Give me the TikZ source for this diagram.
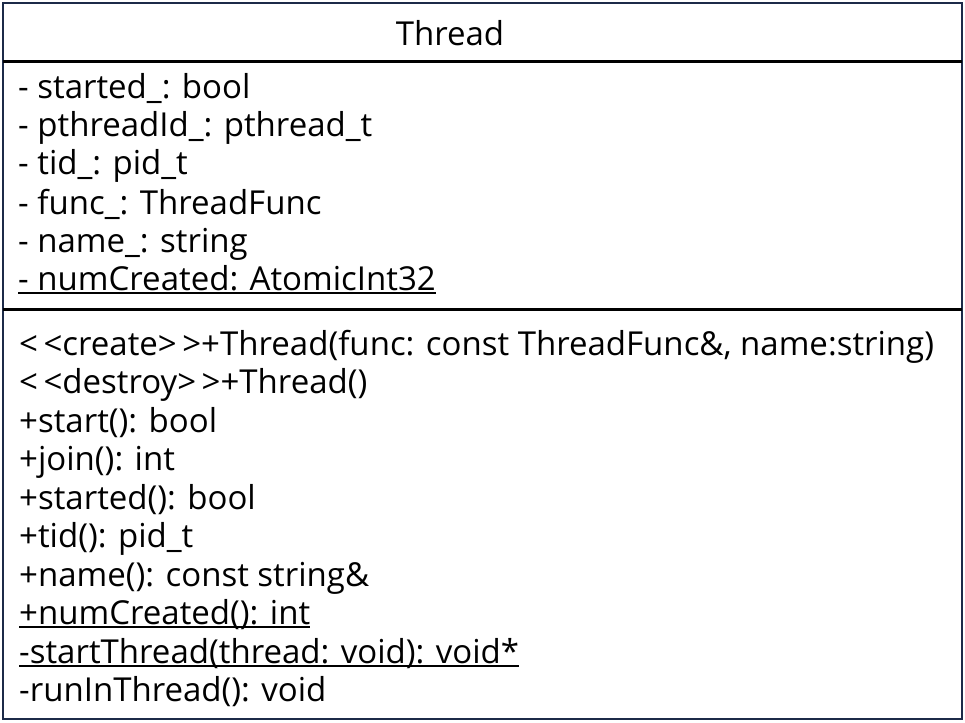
\documentclass[tikz,border=0pt]{standalone}
\usepackage{fontspec}
\setmainfont{Open Sans}
\usepackage{tikz}

\definecolor{boxnavy}{HTML}{1C2A48}
\tikzset{
  member/.style={anchor=base west, inner sep=0pt, font=\fontsize{33}{38}\selectfont},
  title/.style={anchor=base, inner sep=0pt, font=\fontsize{33}{38}\selectfont}
}

\begin{document}
\begin{tikzpicture}[x=1pt, y=-1pt]
                \useasboundingbox (0,0) rectangle (965,722);

                % Class box and compartments
                \draw[boxnavy, line width=2.5pt] (3,3) rectangle (962,719);
                \draw[line width=3pt] (3,62) -- (962,62); % below name
                \draw[line width=3pt] (3,309) -- (962,309); % below attributes

                % Class name
                \node[title] (name) at (450,46) {Thread};

                % Attributes
                \node[member] (a1) at (18,99) {- started\_: bool};
                \node[member] (a2) at (18,137) {- pthreadId\_: pthread\_t};
                \node[member] (a3) at (18,175) {- tid\_: pid\_t};
                \node[member] (a4) at (18,214) {- func\_: ThreadFunc};
                \node[member] (a5) at (18,252) {- name\_: string};
                \node[member] (a6) at (18,290) {- numCreated: AtomicInt32};
                \draw[line width=1.5pt] ([yshift=-3]a6.base west) -- ([yshift=-3]a6.base east); % static

                % Operations
                \node[member] (o1) at (19,355) {<\,<create>\,>+Thread(func: const ThreadFunc\&, name:string)};
                \node[member] (o2) at (19,393) {<\,<destroy>\,>+Thread()};
                \node[member] (o3) at (19,432) {+start(): bool};
                \node[member] (o4) at (19,470) {+join(): int};
                \node[member] (o5) at (19,509) {+started(): bool};
                \node[member] (o6) at (19,547) {+tid(): pid\_t};
                \node[member] (o7) at (19,586) {+name(): const string\&};
                \node[member] (o8) at (19,624) {+numCreated(): int};
                \node[member] (o9) at (19,663) {-startThread(thread: void): void*};
                \node[member] (o10) at (19,701) {-runInThread(): void};
                \draw[line width=1.5pt] ([yshift=-3]o8.base west) -- ([yshift=-3]o8.base east); % static
                \draw[line width=1.5pt] ([yshift=-3]o9.base west) -- ([yshift=-3]o9.base east); % static
\end{tikzpicture}
\end{document}
